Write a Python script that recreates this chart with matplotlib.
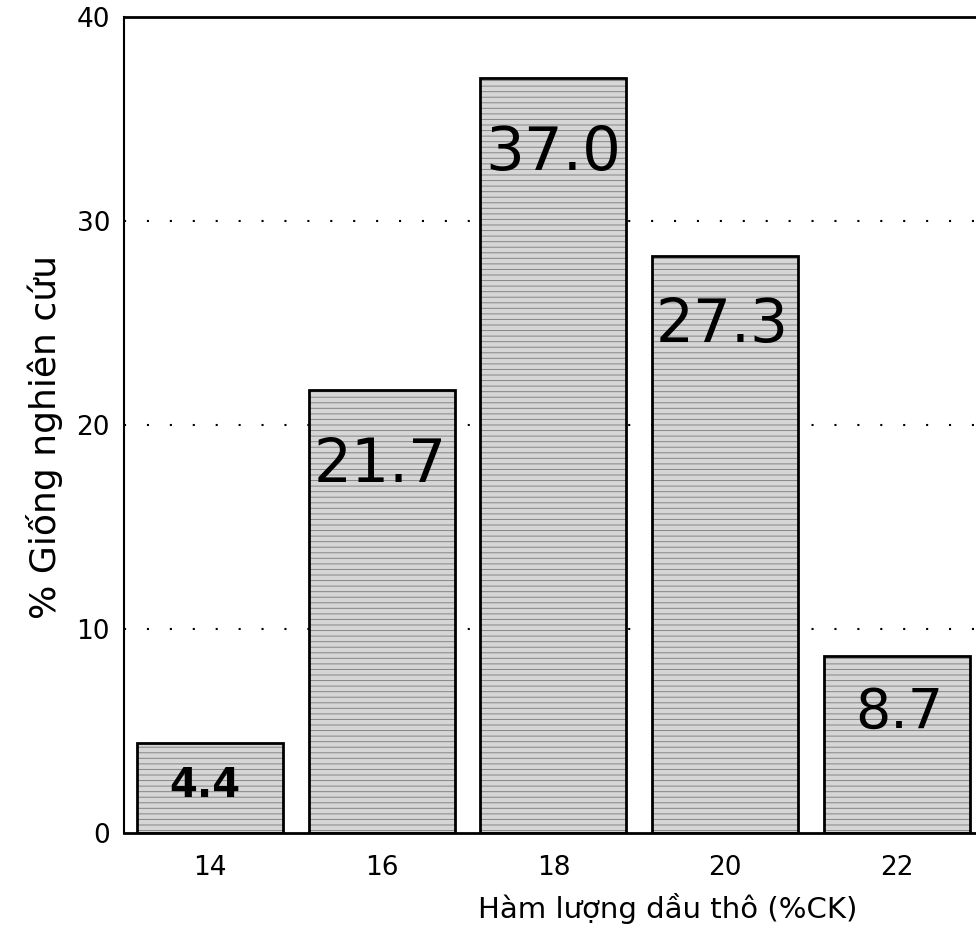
import numpy as np
import matplotlib
matplotlib.use("Agg")
import matplotlib.pyplot as plt

# data
oil = [14, 16, 18, 20, 22]
share = [4.4, 21.7, 37.0, 28.3, 8.7]          # bar heights as drawn
share_labels = ["4.4", "21.7", "37.0", "27.3", "8.7"]  # numbers printed on the bars
yticks = [0, 10, 20, 30, 40]

plt.rcParams['font.family'] = ['DejaVu Sans']
plt.rcParams['hatch.linewidth'] = 0.7

fig = plt.figure(figsize=(9.76, 9.43), dpi=100)
ax = fig.add_axes([0.127, 0.1166, 0.873, 0.8654])

# dotted grid lines
for v in yticks[1:-1]:
    ax.axhline(v, color='black', lw=1.5, ls=(0, (1, 10)), zorder=0)

# grey stippled fill, then the outline
ax.bar(oil, share, width=1.7, color='#d6d6d6', edgecolor='#858585',
       hatch='---', lw=0, zorder=2)
ax.bar(oil, share, width=1.7, fill=False, edgecolor='black', lw=2, zorder=3)

# value labels inside bars
lab_pos = [(13.94, 2.3), (15.98, 18.0), (18.0, 33.3), (19.96, 24.9), (22.03, 5.9)]
lab_size = [29, 43, 44, 43, 40]
for (x, y), s, fs in zip(lab_pos, share_labels, lab_size):
    ax.text(x, y, s, ha='center', va='center', fontsize=fs,
            fontweight='bold' if fs < 30 else 'normal', zorder=4)

ax.set_xlim(13.0, 22.92)
ax.set_ylim(0, 40)
ax.set_xticks(oil)
ax.set_yticks(yticks)
ax.tick_params(axis='both', length=0, labelsize=19)
ax.tick_params(axis='x', pad=16)
ax.tick_params(axis='y', pad=10)

ax.spines['right'].set_visible(False)
ax.spines['top'].set_linewidth(2)
ax.spines['bottom'].set_linewidth(2)
ax.spines['left'].set_linewidth(1.5)

ax.set_xlabel('Hàm lượng dầu thô (%CK)', fontsize=21)
ax.xaxis.set_label_coords((668 - 124) / 852, -(908 - 833) / 816, transform=ax.transAxes)
ax.set_ylabel('% Giống nghiên cứu', fontsize=26)
ax.yaxis.set_label_coords(-(124 - 45) / 852, (833 - 437) / 816, transform=ax.transAxes)
ax.xaxis.label.set_va('center')
ax.yaxis.label.set_va('center')

fig.savefig('out.png', dpi=100)
